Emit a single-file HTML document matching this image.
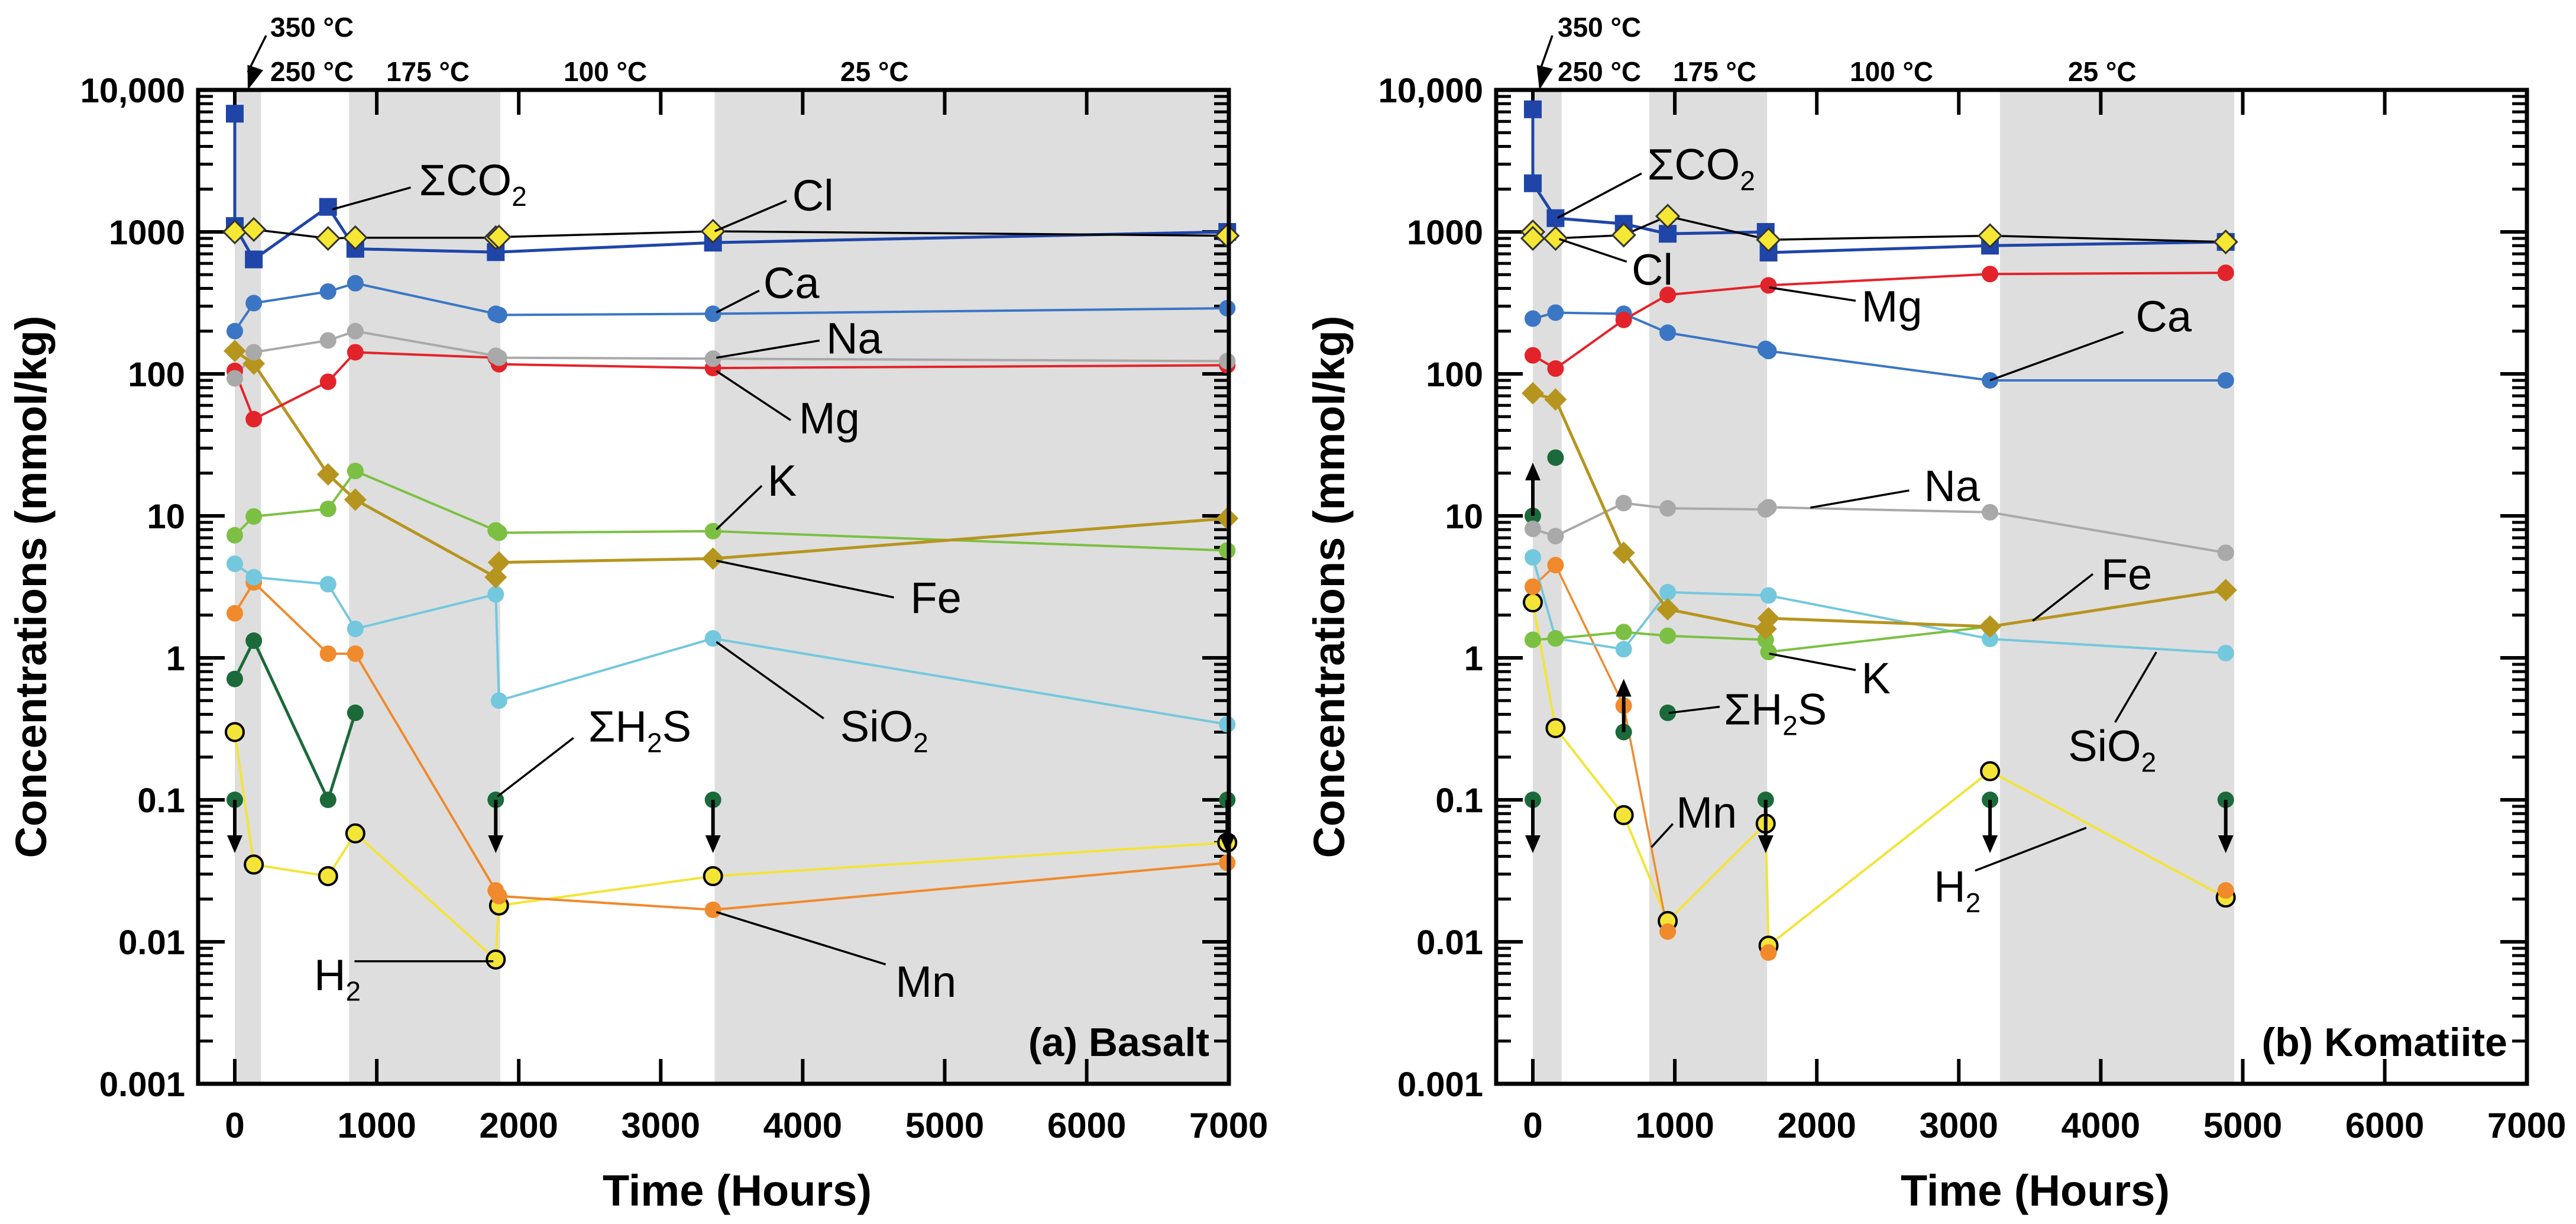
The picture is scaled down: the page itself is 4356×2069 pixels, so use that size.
<!DOCTYPE html>
<html><head><meta charset="utf-8">
<style>
html,body{margin:0;padding:0;background:#fff;}
svg{display:block;font-family:"Liberation Sans",Arial,sans-serif;}
</style></head>
<body>
<svg id="chart" width="4356" height="2069" viewBox="0 0 4356 2069" xmlns="http://www.w3.org/2000/svg"></svg>
<script>
// ---------- DATA: Basalt (a) ----------
const aCO2_t=[0,0,134,657,849,1838,3368,6990];
const aCO2_v=[6800,1100,640,1500,760,720,840,1000];
const aCl_t=[0,134,657,849,1838,1861,3368,6990];
const aCl_v=[1000,1040,900,910,910,920,1010,940];
const aCa_t=[0,134,657,849,1838,1861,3368,6990];
const aCa_v=[200,315,380,435,265,260,265,290];
const aNa_t=[0,134,657,849,1838,1861,3368,6990];
const aNa_v=[93,142,172,200,134,130,128,123];
const aMg_t=[0,134,657,849,1838,1861,3368,6990];
const aMg_v=[105,48,88,142,130,117,110,115];
const aFe_t=[0,134,657,849,1838,1861,3368,6990];
const aFe_v=[145,118,19.6,13,3.7,4.7,5,9.6];
const aK_t=[0,134,657,849,1838,1861,3368,6990];
const aK_v=[7.3,9.9,11.2,20.7,7.9,7.6,7.8,5.7];
const aSi_t=[0,134,657,849,1838,1861,3368,6990];
const aSi_v=[4.6,3.7,3.3,1.6,2.8,0.5,1.37,0.34];
const aMn_t=[0,134,657,849,1838,1861,3368,6990];
const aMn_v=[2.06,3.4,1.07,1.07,0.023,0.021,0.0168,0.036];
const aH2S_t=[0,134,657,849];
const aH2S_v=[0.71,1.32,0.1,0.41];
const aH2Sbd_t=[0,1838,3368,6990];
const aH2Sbd_v=[0.1,0.1,0.1,0.1];
const aH2_t=[0,134,657,849,1838,1861,3368,6990];
const aH2_v=[0.30,0.035,0.029,0.058,0.0075,0.018,0.029,0.05];
// ---------- DATA: Komatiite (b) ----------
const bCO2_t=[0,0,160,640,950,1640,1660,3220,4880];
const bCO2_v=[7300,2200,1250,1140,970,1000,715,800,850];
const bCl_t=[0,0,160,640,950,1660,3220,4880];
const bCl_v=[1000,900,900,950,1290,880,940,850];
const bMg_t=[0,160,640,950,1660,3220,4880];
const bMg_v=[135,109,240,360,420,505,515];
const bCa_t=[0,160,640,950,1640,1660,3220,4880];
const bCa_v=[245,270,265,195,150,145,90,90];
const bFe_t=[0,160,640,950,1640,1660,3220,4880];
const bFe_v=[73,66,5.5,2.2,1.6,1.9,1.66,3.0];
const bNa_t=[0,160,640,950,1640,1660,3220,4880];
const bNa_v=[8.1,7.2,12.3,11.3,11.1,11.5,10.6,5.5];
const bSi_t=[0,160,640,950,1660,3220,4880];
const bSi_v=[5.1,1.37,1.15,2.9,2.75,1.36,1.08];
const bK_t=[0,160,640,950,1640,1660,3220];
const bK_v=[1.34,1.37,1.52,1.43,1.34,1.1,1.66];
const bMn_t=[0,160,640,950];
const bMn_v=[3.17,4.5,0.46,0.0118];
const bMnPts_t=[1660,4880];
const bMnPts_v=[0.0084,0.023];
const bH2_t=[0,160,640,950,1640,1660,3220,4880];
const bH2_v=[2.46,0.32,0.078,0.014,0.068,0.0094,0.159,0.0205];
const bH2S_t=[0,160,640,950];
const bH2S_v=[10,25.7,0.30,0.41];
const bH2Sup_t=[0,640];
const bH2Sup_v=[10,0.30];
const bH2Sbd_t=[0,1640,3220,4880];
const bH2Sbd_v=[0.1,0.1,0.1,0.1];
const yTicks=[10000,1000,100,10,1,0.1,0.01,0.001];
const yTickLabels=["10,000","1000","100","10","1","0.1","0.01","0.001"];
const xTicks=[0,1000,2000,3000,4000,5000,6000,7000];

const NS="http://www.w3.org/2000/svg";
const svg=document.getElementById('chart');
function el(tag,attrs,parent){const e=document.createElementNS(NS,tag);for(const k in attrs)e.setAttribute(k,attrs[k]);(parent||svg).appendChild(e);return e;}

const TOP=152,BOT=1832,DEC=240;
function yS(v){return TOP+(4-Math.log10(v))*DEC;}

const C={co2:'#1f45a8',ca:'#3b76c4',na:'#a9a9a9',mg:'#e3232a',fe:'#b6951f',k:'#7cc043',si:'#74c8de',mn:'#f08a2c',h2s:'#1b6a3a',h2:'#f3e437'};

function panel(P){
  const g=el('g',{});
  
  
  const xS=t=>P.x0+t*0.2401;
  // shading
  P.shades.forEach(s=>{
    const r=el('rect',{x:xS(s[0]),y:TOP,width:Math.min(xS(s[1]),P.right)-xS(s[0]),height:BOT-TOP,fill:'#dedede'},g);
    
    
  });
  // ticks
  xTicks.forEach(t=>{
    const x=xS(t);
    el('line',{x1:x,x2:x,y1:TOP,y2:TOP+42,stroke:'#000','stroke-width':6},g);
    el('line',{x1:x,x2:x,y1:BOT,y2:BOT-42,stroke:'#000','stroke-width':6},g);
    const tl=el('text',{x:x,y:1923,'font-size':60,'font-weight':'bold','text-anchor':'middle'},g);
    tl.textContent=String(t);
    
    
  });
  for(let d=-3;d<4;d++){
    for(let m=2;m<10;m++){
      const y=yS(m*Math.pow(10,d));
      el('line',{x1:P.left,x2:P.left+25,y1:y,y2:y,stroke:'#000','stroke-width':5},g);
      el('line',{x1:P.right,x2:P.right-25,y1:y,y2:y,stroke:'#000','stroke-width':5},g);
    }
  }
  yTicks.forEach((v,i)=>{
    const y=yS(v);
    el('line',{x1:P.left,x2:P.left+45,y1:y,y2:y,stroke:'#000','stroke-width':6},g);
    el('line',{x1:P.right,x2:P.right-45,y1:y,y2:y,stroke:'#000','stroke-width':6},g);
    const tl=el('text',{x:P.left-22,y:y+21,'font-size':58,'font-weight':'bold','text-anchor':'end'},g);
    tl.textContent=yTickLabels[i];
    
    
  });
  // series
  function line(ts,vs,color,w,name){
    const p=el('polyline',{points:ts.map((t,i)=>xS(t)+','+yS(vs[i])).join(' '),fill:'none',stroke:color,'stroke-width':w,'stroke-linejoin':'round'},g);
    
    
  }
  function pts(ts,vs,shape,fill,stroke,name){
    ts.forEach((t,i)=>{
      const x=xS(t),y=yS(vs[i]);let m;
      if(shape==='sq') m=el('rect',{x:x-15,y:y-15,width:30,height:30,fill:fill},g);
      else if(shape==='dia') m=el('polygon',{points:`${x},${y-19} ${x+19},${y} ${x},${y+19} ${x-19},${y}`,fill:fill,stroke:stroke||'none','stroke-width':3},g);
      else m=el('circle',{cx:x,cy:y,r:shape==='oc'?15:14,fill:fill,stroke:stroke||'none','stroke-width':4},g);
      
      
    });
  }
  function arrows(ts,vs,dir,name){
    ts.forEach((t,i)=>{
      const x=xS(t),y=yS(vs[i]);
      const y2=y+dir*90;
      const a=el('g',{},g);
      
      
      el('line',{x1:x,x2:x,y1:y,y2:y2-dir*25,stroke:'#000','stroke-width':6},a);
      el('polygon',{points:`${x-13},${y2-dir*30} ${x+13},${y2-dir*30} ${x},${y2}`,fill:'#000'},a);
    });
  }
  P.series.forEach(s=>{
    if(s.line) line(s.t,s.v,s.lc||s.c,s.w||4,s.n);
  });
  P.series.forEach(s=>{ if(s.shape) pts(s.t,s.v,s.shape,s.c,s.stroke,s.n); });
  P.arrows.forEach(a=>arrows(a.t,a.v,a.dir,a.n));
  // border
  const b=el('rect',{x:P.left,y:TOP,width:P.right-P.left,height:BOT-TOP,fill:'none',stroke:'#000','stroke-width':7},g);
  
  
  // annotations (zoom-space positions converted to pixels)
  const zp=(zx,zy)=>[P.x0+(zx-P.z0)/P.zk*240.1, TOP+(zy-115)/0.7577];
  P.labels.forEach(L=>{
    const a=zp(L.l[0],L.l[1]),b2=zp(L.l[2],L.l[3]);
    el('line',{x1:a[0],y1:a[1],x2:b2[0],y2:b2[1],stroke:'#000','stroke-width':3.5},g);
    const p=zp(L.x,L.y);
    const tx=el('text',{x:p[0],y:p[1]+26,'font-size':74},g);
    
    
    tx.appendChild(document.createTextNode(L.main));
    if(L.sub){const ts=el('tspan',{'font-size':46,dy:18},tx);ts.textContent=L.sub;
      if(L.after){const t2=el('tspan',{dy:-18},tx);t2.textContent=L.after;}}
  });
  // temperature labels
  P.temps.forEach(T=>{
    const t=el('text',{x:T[0],y:T[1],'font-size':46,'font-weight':'bold'},g);
    t.textContent=T[2];
    
    
  });
  el('line',{x1:P.arr[0],y1:P.arr[1],x2:P.arr[2],y2:P.arr[3]-30,stroke:'#000','stroke-width':3.5},g);
  const dx=P.arr[2]-P.arr[0],dy=P.arr[3]-P.arr[1],L=Math.hypot(dx,dy),ux=dx/L,uy=dy/L;
  el('polygon',{points:`${P.arr[2]},${P.arr[3]} ${P.arr[2]-ux*40-uy*14},${P.arr[3]-uy*40+ux*14} ${P.arr[2]-ux*40+uy*14},${P.arr[3]-uy*40-ux*14}`,fill:'#000'},g);
  const pl=el('text',{x:P.tagX,y:1785,'font-size':68,'font-weight':'bold','text-anchor':'end'},g);
  pl.textContent=P.tag;
  
  
  const xt=el('text',{x:(P.left+P.right)/2+40,y:2038,'font-size':74,'font-weight':'bold','text-anchor':'middle'},g);
  xt.textContent='Time (Hours)';
  
  
  const yt=el('text',{x:0,y:0,'font-size':74,'font-weight':'bold','text-anchor':'middle',transform:`translate(${P.ytx},${(TOP+BOT)/2}) rotate(-90)`},g);
  yt.textContent='Concentrations (mmol/kg)';
  
  
}

panel({name:'basalt-panel',left:335,right:2078,x0:397,z0:287,zk:171.9,tag:'(a) Basalt',tagX:2045,ytx:78,
  shades:[[0,185],[805,1870],[3380,7100]],
  series:[
    {n:'h2s',t:aH2S_t,v:aH2S_v,c:C.h2s,line:1,shape:'c',w:5},
    {n:'h2s-bdl',t:aH2Sbd_t,v:aH2Sbd_v,c:C.h2s,shape:'c'},
    {n:'h2',t:aH2_t,v:aH2_v,c:C.h2,line:1,shape:'oc',stroke:'#000',w:4},
    {n:'mn',t:aMn_t,v:aMn_v,c:C.mn,line:1,shape:'c'},
    {n:'sio2',t:aSi_t,v:aSi_v,c:C.si,line:1,shape:'c'},
    {n:'k',t:aK_t,v:aK_v,c:C.k,line:1,shape:'c'},
    {n:'fe',t:aFe_t,v:aFe_v,c:C.fe,line:1,shape:'dia',w:5},
    {n:'mg',t:aMg_t,v:aMg_v,c:C.mg,line:1,shape:'c'},
    {n:'na',t:aNa_t,v:aNa_v,c:C.na,line:1,shape:'c'},
    {n:'ca',t:aCa_t,v:aCa_v,c:C.ca,line:1,shape:'c'},
    {n:'co2',t:aCO2_t,v:aCO2_v,c:C.co2,line:1,shape:'sq',w:5},
    {n:'cl',t:aCl_t,v:aCl_v,c:'#f5e733',lc:'#000',line:1,shape:'dia',stroke:'#333',w:3.5}
  ],
  arrows:[{n:'below-detection-arrow',t:aH2Sbd_t,v:aH2Sbd_v,dir:1}],
  labels:[
    {dn:'label-co2',main:'ΣCO',sub:'2',x:510,y:230,l:[405,268,500,240]},
    {dn:'label-cl',main:'Cl',x:962,y:250,l:[868,296,955,257]},
    {dn:'label-ca',main:'Ca',x:927,y:362,l:[870,400,922,372]},
    {dn:'label-na',main:'Na',x:1003,y:433,l:[870,458,995,436]},
    {dn:'label-mg',main:'Mg',x:970,y:535,l:[870,475,960,538]},
    {dn:'label-k',main:'K',x:932,y:615,l:[870,678,925,622]},
    {dn:'label-fe',main:'Fe',x:1105,y:765,l:[870,718,1085,765]},
    {dn:'label-sio2',main:'SiO',sub:'2',x:1020,y:930,l:[870,822,1000,920]},
    {dn:'label-h2s',main:'ΣH',sub:'2',after:'S',x:715,y:930,l:[605,1020,697,945]},
    {dn:'label-h2',main:'H',sub:'2',x:383,y:1248,l:[432,1231,600,1231]},
    {dn:'label-mn',main:'Mn',x:1087,y:1257,l:[870,1168,1075,1235]}
  ],
  temps:[[457,62,'350 °C'],[457,137,'250 °C'],[653,137,'175 °C'],[953,137,'100 °C'],[1421,137,'25 °C']],
  arr:[450,60,419,152]
});

panel({name:'komatiite-panel',left:2530,right:4273,x0:2592,z0:298,zk:172.4,tag:'(b) Komatiite',tagX:4240,ytx:2273,
  shades:[[0,203],[820,1650],[3290,4940]],
  series:[
    {n:'h2s',t:bH2S_t,v:bH2S_v,c:C.h2s,shape:'c'},
    {n:'h2s-bdl',t:bH2Sbd_t,v:bH2Sbd_v,c:C.h2s,shape:'c'},
    {n:'h2',t:bH2_t,v:bH2_v,c:C.h2,line:1,shape:'oc',stroke:'#000',w:4},
    {n:'mn',t:bMn_t,v:bMn_v,c:C.mn,line:1,shape:'c',w:3.5},
    {n:'mn-extra',t:bMnPts_t,v:bMnPts_v,c:C.mn,shape:'c'},
    {n:'sio2',t:bSi_t,v:bSi_v,c:C.si,line:1,shape:'c'},
    {n:'k',t:bK_t,v:bK_v,c:C.k,line:1,shape:'c'},
    {n:'na',t:bNa_t,v:bNa_v,c:C.na,line:1,shape:'c'},
    {n:'fe',t:bFe_t,v:bFe_v,c:C.fe,line:1,shape:'dia',w:5},
    {n:'ca',t:bCa_t,v:bCa_v,c:C.ca,line:1,shape:'c'},
    {n:'mg',t:bMg_t,v:bMg_v,c:C.mg,line:1,shape:'c'},
    {n:'co2',t:bCO2_t,v:bCO2_v,c:C.co2,line:1,shape:'sq',w:5},
    {n:'cl',t:bCl_t,v:bCl_v,c:'#f5e733',lc:'#000',line:1,shape:'dia',stroke:'#333',w:3.5}
  ],
  arrows:[{n:'below-detection-arrow',t:bH2Sbd_t,v:bH2Sbd_v,dir:1},{n:'above-range-arrow',t:bH2Sup_t,v:bH2Sup_v,dir:-1}],
  labels:[
    {dn:'label-co2',main:'ΣCO',sub:'2',x:437,y:210,l:[328,279,430,222]},
    {dn:'label-cl',main:'Cl',x:418,y:345,l:[330,306,412,335]},
    {dn:'label-mg',main:'Mg',x:697,y:392,l:[585,368,690,385]},
    {dn:'label-ca',main:'Ca',x:1030,y:405,l:[853,487,1015,425]},
    {dn:'label-na',main:'Na',x:773,y:622,l:[635,650,755,628]},
    {dn:'label-fe',main:'Fe',x:988,y:735,l:[905,795,978,735]},
    {dn:'label-k',main:'K',x:697,y:868,l:[585,837,690,858]},
    {dn:'label-sio2',main:'SiO',sub:'2',x:948,y:955,l:[1055,835,1005,925]},
    {dn:'label-h2s',main:'ΣH',sub:'2',after:'S',x:530,y:908,l:[463,913,525,905]},
    {dn:'label-mn',main:'Mn',x:472,y:1040,l:[442,1085,468,1055]},
    {dn:'label-h2',main:'H',sub:'2',x:785,y:1135,l:[835,1115,970,1060]}
  ],
  temps:[[2634,62,'350 °C'],[2634,137,'250 °C'],[2829,137,'175 °C'],[3128,137,'100 °C'],[3497,137,'25 °C']],
  arr:[2625,60,2603,152]
});
</script>
</body></html>
